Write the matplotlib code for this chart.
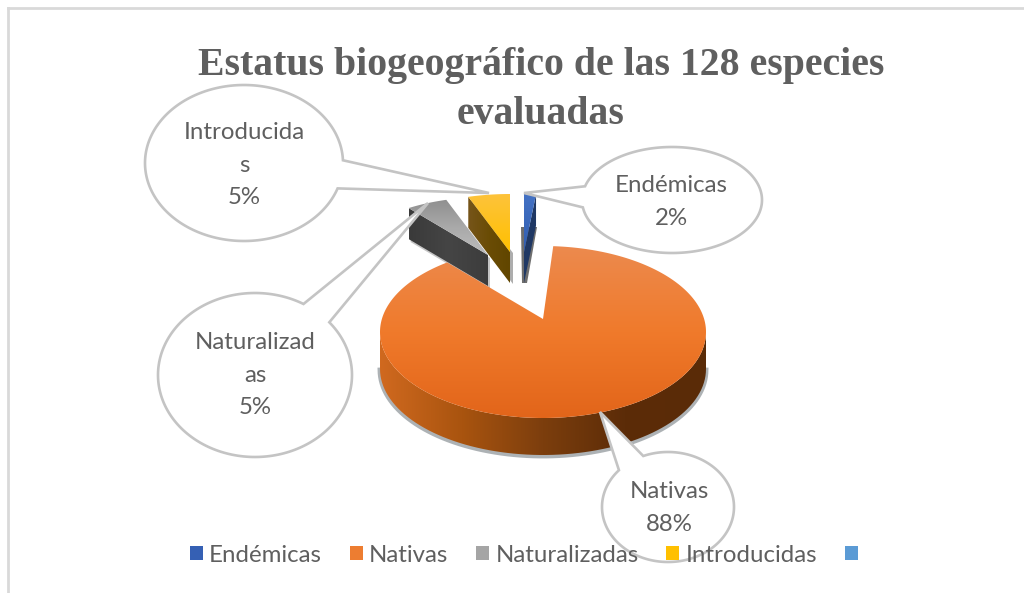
import numpy as np
import matplotlib
matplotlib.use("Agg")
import matplotlib.pyplot as plt
from matplotlib.colors import LinearSegmentedColormap
from matplotlib.patches import Patch, Polygon

# Data
title_text = "Estatus biogeográfico de las 128 especies\nevaluadas"
categories = ["Endémicas", "Nativas", "Naturalizadas", "Introducidas"]
percent = [2, 88, 5, 5]
wrapped_names = ["Endémicas", "Nativas", "Naturalizad\nas", "Introducida\ns"]
legend_labels = ["Endémicas", "Nativas", "Naturalizadas", "Introducidas", " "]
legend_colors = ["#3560B4", "#ED7D31", "#A5A5A5", "#FFC000", "#5B9BD5"]

GREY_TEXT = "#5F5F5F"
CALLOUT_EDGE = "#C4C4C4"
LABEL_FONT = "Lato"
LABEL_SIZE = 17.3

# Slices are cut clockwise from twelve o'clock
ends = np.cumsum(percent) * 3.6
starts = np.concatenate(([0], ends[:-1]))

fig = plt.figure(figsize=(10.24, 5.93), dpi=100)
ax = fig.add_axes([0, 0, 1, 1])


def arc(cx, cy, rx, ry, a0, a1, n=80):
    t = np.radians(np.linspace(a0, a1, n))
    return np.column_stack((cx + rx * np.sin(t), cy - ry * np.cos(t)))


def gradient_fill(pts, colors, vertical=True, zorder=2):
    # image clipped to the polygon, gives the soft office style shading
    cmap = LinearSegmentedColormap.from_list("g", colors)
    ramp = np.linspace(0, 1, 256)
    ramp = ramp[:, None] if vertical else ramp[None, :]
    x0, y0 = pts.min(axis=0)
    x1, y1 = pts.max(axis=0)
    im = ax.imshow(ramp, cmap=cmap, extent=(x0, x1, y1, y0), aspect="auto",
                   origin="upper", zorder=zorder, interpolation="bilinear")
    clip = Polygon(pts, closed=True, transform=ax.transData)
    im.set_clip_path(clip)


def extrude(p, q, depth):
    return np.array([p, q, q + [0, depth], p + [0, depth]])


# small exploded slices (far side of the pie, so smaller radii)
RX, RY, DEPTH = 135, 58, 31

# Naturalizadas
apex = np.array([488, 255])
top = arc(apex[0], apex[1], RX, RY, starts[2], ends[2])
side = extrude(top[0], apex, DEPTH)
ax.add_patch(Polygon(side + [2, 3], color="#8A8A8A", alpha=0.5, zorder=1.5, lw=0))
gradient_fill(side, ["#3A3A3A", "#454545", "#3C3C3C"], vertical=False, zorder=2)
gradient_fill(np.vstack((apex, top)), ["#8F8F8F", "#A9A9A9", "#BDBDBD"], zorder=2.2)

# Introducidas
apex = np.array([510, 252])
top = arc(apex[0], apex[1], RX, RY, starts[3], ends[3])
side = extrude(top[0], apex, DEPTH)
ax.add_patch(Polygon(side + [3, 1], color="#777777", alpha=0.6, zorder=1.5, lw=0))
gradient_fill(side, ["#76551A", "#6A4C05", "#614600"], vertical=False, zorder=2)
gradient_fill(np.vstack((apex, top)), ["#FDC33B", "#FFC000"], zorder=2.2)

# Endémicas, drawn narrower than its angle because of the perspective
apex = np.array([524, 252])
top = arc(apex[0], apex[1], 96, RY, starts[0], ends[0])
side = extrude(top[-1], apex, DEPTH)
ax.add_patch(Polygon([[521, 227], [537, 227], [527, 283], [522, 283]],
                     color="#555555", alpha=0.85, zorder=1.5, lw=0))
ax.add_patch(Polygon(side, color="#1F3864", zorder=2, lw=0))
gradient_fill(np.vstack((apex, top)), ["#4472C4", "#2F5DB0"], zorder=2.2)

# Nativas, the big slice
CX, CY, RX_BIG, RY_BIG, DEPTH_BIG = 543, 332, 163, 86, 37
apex = np.array([543, 319])
rim_top = arc(CX, CY, RX_BIG, RY_BIG, 90, 270)
rim = np.vstack((rim_top, rim_top[::-1] + [0, DEPTH_BIG]))
rim_low = rim_top + [0, DEPTH_BIG + 1]
ax.plot(rim_low[:, 0], rim_low[:, 1], color="#6B7378", lw=3.5, alpha=0.55, zorder=2.6)
gradient_fill(rim, ["#D0691F", "#A9540F", "#7C3E0D", "#5C2C08", "#5A2B07"],
              vertical=False, zorder=3)
# start pulled back a little, the far edge leans in with the perspective
top = arc(CX, CY, RX_BIG, RY_BIG, starts[1] - 3.6, ends[1], n=300)
gradient_fill(np.vstack((apex, top)), ["#EC8A4E", "#F07A2B", "#E2651A"], zorder=3.2)

# callouts: ellipse centre, radii, tail tip, tail base angles
callout_x = [672, 668, 255, 244]
callout_y = [200, 507, 375, 163]
callout_rx = [90, 66, 97, 99]
callout_ry = [53, 55, 82, 78]
tail_x = [524, 600, 428, 489]
tail_y = [193, 412, 203, 193]
tail_a0 = [285, 338, 30, 88]
tail_a1 = [262, 312, 50, 109]
label_x = [671, 669, 255, 244]
label_y = [202, 508, 375, 165]

for i, name in enumerate(categories):
    # go round the ellipse from the far tail base to the near one
    a0, a1 = tail_a0[i], tail_a1[i]
    if a0 > a1:
        ring = arc(callout_x[i], callout_y[i], callout_rx[i], callout_ry[i], a0 - 360, a1, 200)
    else:
        ring = arc(callout_x[i], callout_y[i], callout_rx[i], callout_ry[i], a1, a0 + 360, 200)
    outline = np.vstack((ring, [tail_x[i], tail_y[i]]))
    ax.add_patch(Polygon(outline, closed=True, fc="white", ec=CALLOUT_EDGE, lw=1.9,
                         joinstyle="miter", zorder=5 + i * 0.1))
    ax.text(label_x[i], label_y[i], f"{wrapped_names[i]}\n{percent[i]}%",
            ha="center", va="center", family=LABEL_FONT, fontsize=LABEL_SIZE,
            color=GREY_TEXT, linespacing=1.66, zorder=6)

# Title
ax.text(541, 90, title_text, ha="center", va="center", family="Liberation Serif",
        weight="bold", fontsize=28.6, color=GREY_TEXT, linespacing=1.4, zorder=7)

# Legend
handles = [Patch(fc=c, ec="none") for c in legend_colors]
leg = ax.legend(handles, legend_labels, ncol=5, loc="center", frameon=False,
                bbox_to_anchor=(530 / 1024, 1 - 555 / 593), prop={"family": LABEL_FONT, "size": LABEL_SIZE},
                labelcolor=GREY_TEXT, handlelength=0.55, handleheight=0.55,
                handletextpad=0.25, columnspacing=1.15, borderpad=0)
leg.set_zorder(8)

# Chart frame, only top and left edges show in the crop
ax.plot([8, 1024], [7.5, 7.5], color="#D9D9D9", lw=2, zorder=9)
ax.plot([8, 8], [7.5, 593], color="#D9D9D9", lw=2, zorder=9)

ax.set_xlim(0, 1024)
ax.set_ylim(593, 0)
ax.axis("off")
fig.savefig("out.png", dpi=100)
